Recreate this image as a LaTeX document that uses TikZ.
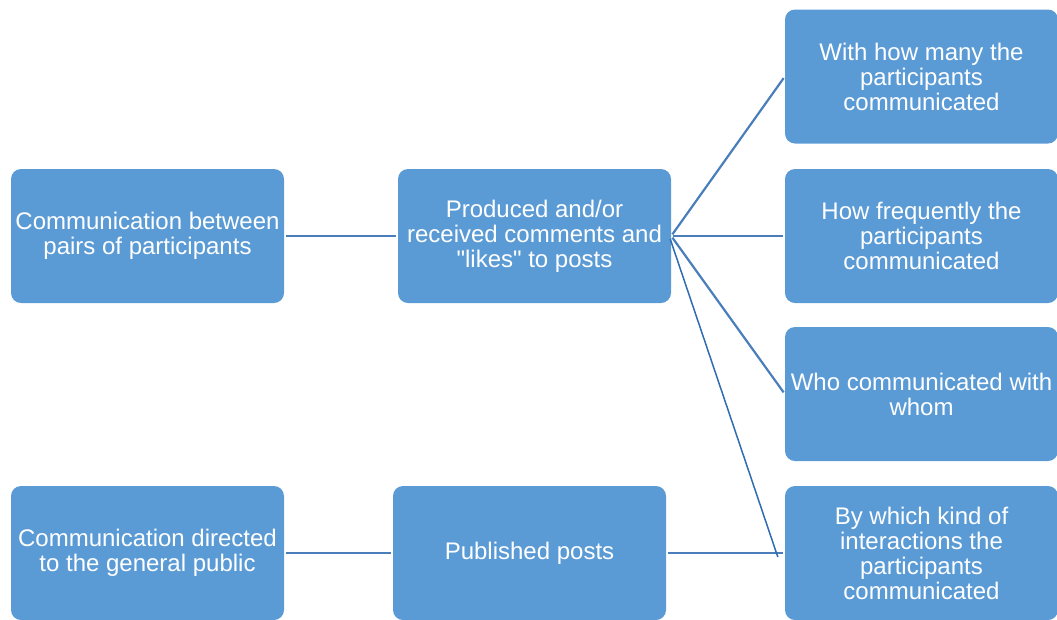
\documentclass[tikz,border=0pt]{standalone}
\usepackage{fontspec}
\setmainfont{Liberation Sans}[Ligatures=TeXOff]
\usetikzlibrary{calc}
\definecolor{boxblue}{HTML}{5B9BD5}
\definecolor{linkblue}{HTML}{4A7EBB}
\definecolor{thinblue}{HTML}{2F6CB0}
\tikzset{
  card/.style={rectangle, rounded corners=10pt, fill=boxblue,
    minimum width=273pt, minimum height=134pt, inner sep=0pt,
    align=center, text=white,
    font=\fontsize{24pt}{25pt}\selectfont},
  link/.style={draw=linkblue, line width=2.2pt, shorten <=2pt, shorten >=2pt},
  thinlink/.style={draw=thinblue, line width=1.5pt}
}
\begin{document}
\begin{tikzpicture}[x=1pt, y=-1pt]
  \useasboundingbox (0,0) rectangle (1057,619);
  \clip (0,0) rectangle (1057,619);

  % left column
  \node[card] (pairs)  at (147.5,236)   {Communication between\\pairs of participants};
  \node[card] (public) at (147.5,553)   {Communication directed\\to the general public};

  % middle column
  \node[card] (comments) at (534.5,236) {Produced and/or\\received comments and\\"likes" to posts};
  \node[card] (posts)    at (529.5,553) {Published posts};

  % right column
  \node[card] (many)  at (921.5,76.5)  {With how many the\\participants\\communicated};
  \node[card] (often) at (921.5,236)   {How frequently the\\participants\\communicated};
  \node[card] (whom)  at (921.5,394)   {Who communicated with\\whom};
  \node[card] (kind)  at (921.5,553)   {By which kind of\\interactions the\\participants\\communicated};

  % connectors
  \draw[link] (pairs.east) -- (comments.west);
  \draw[link] (public.east) -- (posts.west);
  \draw[link] (comments.east) -- (many.west);
  \draw[link] (comments.east) -- (often.west);
  \draw[link] (comments.east) -- (whom.west);
  \draw[link] (posts.east) -- (kind.west);

  \coordinate (kindjoin) at ($(kind.west)+(-7,4)$);
  \draw[thinlink] ($(comments.east)+(-1,3)$) -- (kindjoin);
\end{tikzpicture}
\end{document}
